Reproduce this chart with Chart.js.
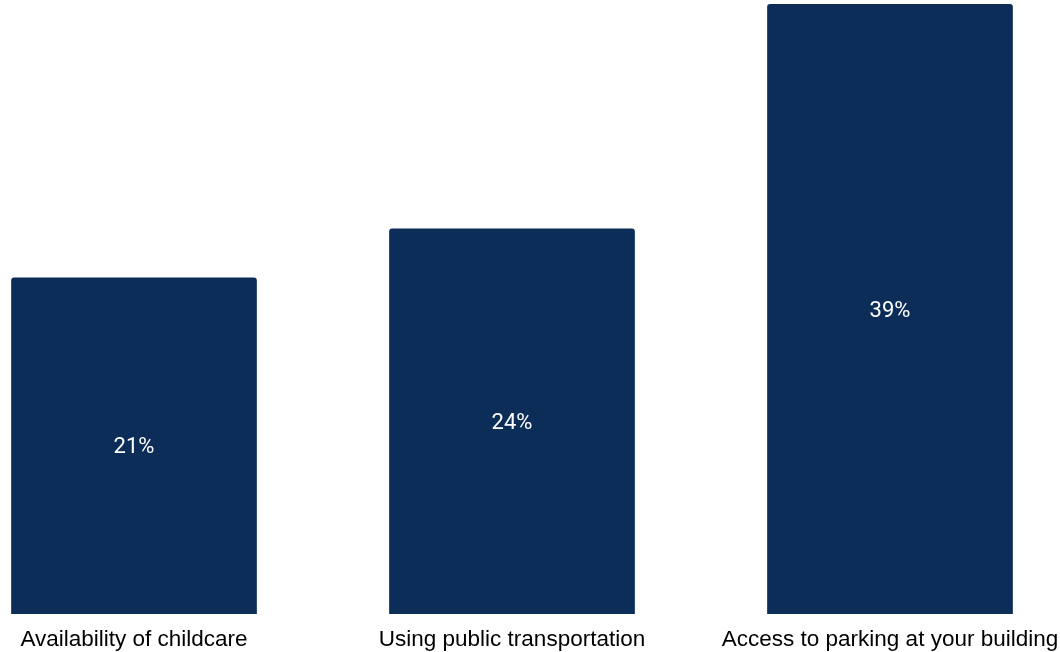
<!DOCTYPE html>
<html>
<head>
<meta charset="utf-8">
<script src="https://cdn.jsdelivr.net/npm/chart.js@4/dist/chart.umd.min.js"></script>
<style>
    html, body { margin: 0; padding: 0; background: #fff; overflow: hidden; }
    body { width: 1060px; height: 652px; position: relative; }
    #wrap { position: absolute; left: -55px; top: 0; width: 1134px; height: 652px; }
</style>
</head>
<body>
<div id="wrap"><canvas id="barChart"></canvas></div>
<script>
// data
const categories = ["Availability of childcare", "Using public transportation", "Access to parking at your building"];
const shares = [21.3, 24.4, 38.6];
const barColor = "#0c2d57";

// value labels in the middle of each bar
const valueLabels = {
    id: "valueLabels",
    afterDatasetsDraw(chart) {
        const ctx = chart.ctx;
        ctx.save();
        ctx.font = "22px Roboto";
        ctx.fillStyle = "#ffffff";
        ctx.textAlign = "center";
        ctx.textBaseline = "middle";
        chart.getDatasetMeta(0).data.forEach((bar, i) => {
            const mid = (bar.y + bar.base) / 2 + 2;
            ctx.fillText(Math.round(shares[i]) + "%", bar.x, mid);
        });
        ctx.restore();
    },
};

const bar_ctx = document.getElementById("barChart").getContext("2d");
const barChart = new Chart(bar_ctx, {
    type: "bar",
    data: {
        labels: categories,
        datasets: [
            {
                data: shares,
                backgroundColor: barColor,
                borderRadius: { topLeft: 3, topRight: 3 },
                borderSkipped: "bottom",
                barPercentage: 0.65,
                categoryPercentage: 1,
            },
        ],
    },
    options: {
        responsive: true,
        maintainAspectRatio: false,
        animation: false,
        layout: {
            padding: { top: 4, bottom: 0, left: 0, right: 0 },
        },
        plugins: {
            legend: { display: false },
            tooltip: { enabled: false },
        },
        scales: {
            x: {
                grid: { display: false, drawTicks: false },
                border: { display: false },
                afterFit: (scale) => {
                    scale.height = 38;
                },
                ticks: {
                    color: "#000000",
                    padding: 12,
                    maxRotation: 0,
                    autoSkip: false,
                    font: { family: "'Liberation Sans', Arial", size: 22.5 },
                },
            },
            y: {
                display: false,
                min: 0,
                max: Math.max(...shares),
            },
        },
    },
    plugins: [valueLabels],
});
</script>
</body>
</html>
